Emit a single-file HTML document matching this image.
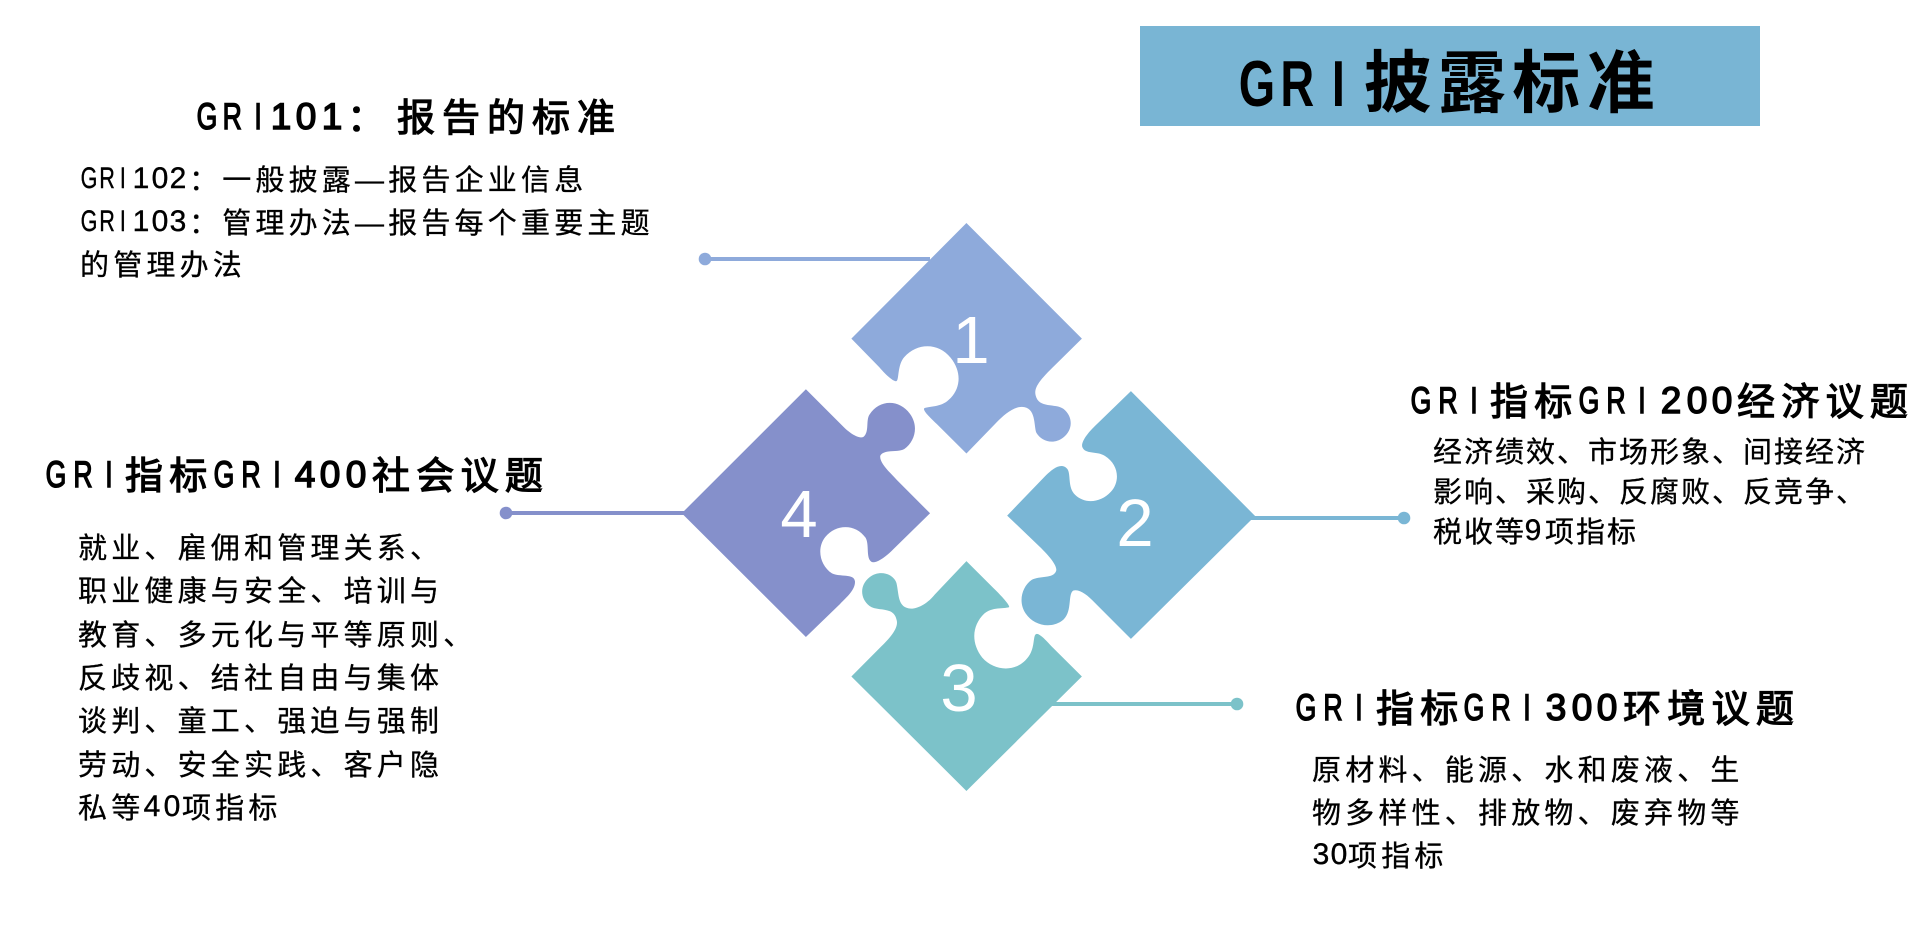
<!DOCTYPE html>
<html><head><meta charset="utf-8"><style>
html,body{margin:0;padding:0;background:#fff;width:1929px;height:943px;overflow:hidden}
svg{display:block}
text{fill:#000}
.h{font:38px "Liberation Sans","Noto Sans CJK SC",sans-serif;letter-spacing:6.3px;stroke:#000;stroke-width:1.2px}
.hl{font:37px "Liberation Sans",sans-serif;text-anchor:middle;stroke:#000;stroke-width:1.5px}
.b{font:29px "Liberation Sans","Noto Sans CJK SC",sans-serif;letter-spacing:4.2px;stroke:#000;stroke-width:.3px}
.bl{font:30px "Liberation Sans",sans-serif;text-anchor:middle;stroke:#000;stroke-width:.4px}
.n{font:67px "Liberation Sans",sans-serif;fill:#fff;text-anchor:middle}
</style></head><body>
<svg width="1929" height="943" viewBox="0 0 1929 943" xmlns="http://www.w3.org/2000/svg">
<rect x="1140" y="26" width="620" height="100" fill="#79b5d4"/>
<text transform="translate(1257,106) scale(.72 1)" x="0 56 113" style="font:bold 65px 'Liberation Sans',sans-serif;text-anchor:middle">GRI</text>
<text x="1363.5" y="107" style="font:bold 68px 'Liberation Sans','Noto Sans CJK SC',sans-serif;letter-spacing:6.4px">披露标准</text>

<!-- connectors -->
<g stroke-width="4">
<line x1="705" y1="259" x2="930" y2="259" stroke="#8eaadb"/>
<line x1="1245" y1="518" x2="1404" y2="518" stroke="#7ab6d5"/>
<line x1="1050" y1="704" x2="1237" y2="704" stroke="#7cc2c9"/>
<line x1="506" y1="513" x2="686" y2="513" stroke="#8590cb"/>
</g>
<circle cx="705" cy="259" r="6.3" fill="#8eaadb"/>
<circle cx="1404" cy="518" r="6.3" fill="#7ab6d5"/>
<circle cx="1237" cy="704" r="6.3" fill="#7cc2c9"/>
<circle cx="506" cy="513" r="6.3" fill="#8590cb"/>

<!-- puzzle pieces -->
<g transform="translate(660,200) scale(.3954,.383)">
<path fill="#8eaadb" d="M775 60 L1067 362 L1000 430 C960 470 945 490 950 510 C958 545 1000 530 1020 545 C1045 565 1045 600 1020 620 C995 640 965 630 952 608 C945 590 952 540 915 540 C895 540 870 560 850 582 L775 662 L700 585 C680 565 665 550 668 544 C680 538 710 542 730 522 C760 495 765 450 735 412 C705 372 650 372 618 410 C600 430 605 470 598 473 C590 475 570 455 555 437 L484 362 Z"/>
<path fill="#7ab6d5" d="M1191 499 L1100 590 C1075 615 1065 635 1068 645 C1075 665 1105 655 1125 668 C1160 690 1165 735 1140 762 C1115 790 1075 795 1050 770 C1030 750 1040 715 1030 702 C1015 685 995 700 975 720 L878 824 L960 905 C985 930 1005 955 1002 968 C995 990 960 980 940 992 C915 1010 905 1050 925 1080 C945 1110 985 1120 1015 1100 C1045 1080 1030 1030 1045 1020 C1060 1015 1080 1030 1100 1052 L1191 1146 L1505 825 Z"/>
<path fill="#7cc2c9" d="M775 943 L845 1015 C865 1035 885 1058 883 1063 C870 1068 840 1062 820 1080 C790 1110 785 1155 815 1195 C845 1230 900 1235 930 1195 C950 1170 942 1135 952 1133 C960 1132 975 1148 990 1165 L1067 1244 L775 1543 L484 1244 L560 1165 C585 1140 605 1115 598 1095 C590 1060 550 1075 530 1060 C505 1040 505 1005 530 985 C555 965 590 975 598 1000 C605 1030 600 1065 635 1067 C655 1067 680 1050 695 1030 Z"/>
<path fill="#8590cb" d="M369 494 L460 588 C480 610 505 625 515 618 C530 605 520 575 530 560 C555 520 605 520 632 558 C655 590 645 630 618 650 C600 660 565 650 557 668 C555 685 575 705 600 732 L683 818 L590 912 C570 933 545 950 535 945 C520 935 530 900 520 882 C495 845 445 845 418 880 C395 910 405 955 435 975 C455 985 490 975 493 995 C495 1015 475 1035 455 1055 L369 1141 L55 818 Z"/>
</g>
<text class="n" x="971" y="363">1</text>
<text class="n" x="1135" y="546">2</text>
<text class="n" x="959" y="711">3</text>
<text class="n" x="799" y="537">4</text>

<!-- block 1 -->
<text class="hl" transform="translate(207,129) scale(.72 1)" x="0 35 71" y="0">GRI</text>
<text class="hl" x="281 306 332" y="129">101</text>
<text x="397" y="131" class="h" style="letter-spacing:7px">报告的标准</text>
<text x="347" y="131" class="h">：</text>
<text class="bl" transform="translate(89,188) scale(.72 1)" x="0 25 47">GRI</text>
<text class="bl" x="141 160 178" y="188">102</text>
<text class="b" x="189" y="190">：一般披露—报告企业信息</text>
<text class="bl" transform="translate(89,231) scale(.72 1)" x="0 25 47">GRI</text>
<text class="bl" x="141 160 178" y="231">103</text>
<text class="b" x="189" y="233">：管理办法—报告每个重要主题</text>
<text class="b" x="80" y="275">的管理办法</text>

<!-- block 2 -->
<text class="hl" transform="translate(1421,413) scale(.72 1)" x="0 37.5 73.6">GRI</text>
<text class="h" x="1490" y="415">指标</text>
<text class="hl" transform="translate(1589,413) scale(.72 1)" x="0 37.5 73.6">GRI</text>
<text class="hl" x="1671 1697 1722" y="413">200</text>
<text class="h" x="1737" y="415">经济议题</text>
<text class="b" x="1433" y="462" style="letter-spacing:2px">经济绩效、市场形象、间接经济</text>
<text class="b" x="1433" y="502" style="letter-spacing:2px">影响、采购、反腐败、反竞争、</text>
<text class="b" x="1433" y="542" style="letter-spacing:2px">税收等</text>
<text class="bl" x="1533" y="540">9</text>
<text class="b" x="1545" y="542" style="letter-spacing:2px">项指标</text>

<!-- block 3 -->
<text class="hl" transform="translate(1306,720) scale(.72 1)" x="0 37.5 73.6">GRI</text>
<text class="h" x="1376" y="722">指标</text>
<text class="hl" transform="translate(1474,720) scale(.72 1)" x="0 37.5 73.6">GRI</text>
<text class="hl" x="1556 1582 1607" y="720">300</text>
<text class="h" x="1623" y="722">环境议题</text>
<text class="b" x="1312" y="780">原材料、能源、水和废液、生</text>
<text class="b" x="1312" y="823">物多样性、排放物、废弃物等</text>
<text class="bl" x="1321 1339" y="864">30</text>
<text class="b" x="1348" y="866">项指标</text>

<!-- block 4 -->
<text class="hl" transform="translate(56,487) scale(.72 1)" x="0 37.5 73.6">GRI</text>
<text class="h" x="125" y="489">指标</text>
<text class="hl" transform="translate(224,487) scale(.72 1)" x="0 37.5 73.6">GRI</text>
<text class="hl" x="305 330 356" y="487">400</text>
<text class="h" x="372" y="489">社会议题</text>
<text class="b" x="78" y="558">就业、雇佣和管理关系、</text>
<text class="b" x="78" y="601">职业健康与安全、培训与</text>
<text class="b" x="78" y="645">教育、多元化与平等原则、</text>
<text class="b" x="78" y="688">反歧视、结社自由与集体</text>
<text class="b" x="78" y="731">谈判、童工、强迫与强制</text>
<text class="b" x="78" y="775">劳动、安全实践、客户隐</text>
<text class="b" x="78" y="818">私等</text>
<text class="bl" x="152 172" y="816">40</text>
<text class="b" x="182" y="818">项指标</text>
</svg>
</body></html>
